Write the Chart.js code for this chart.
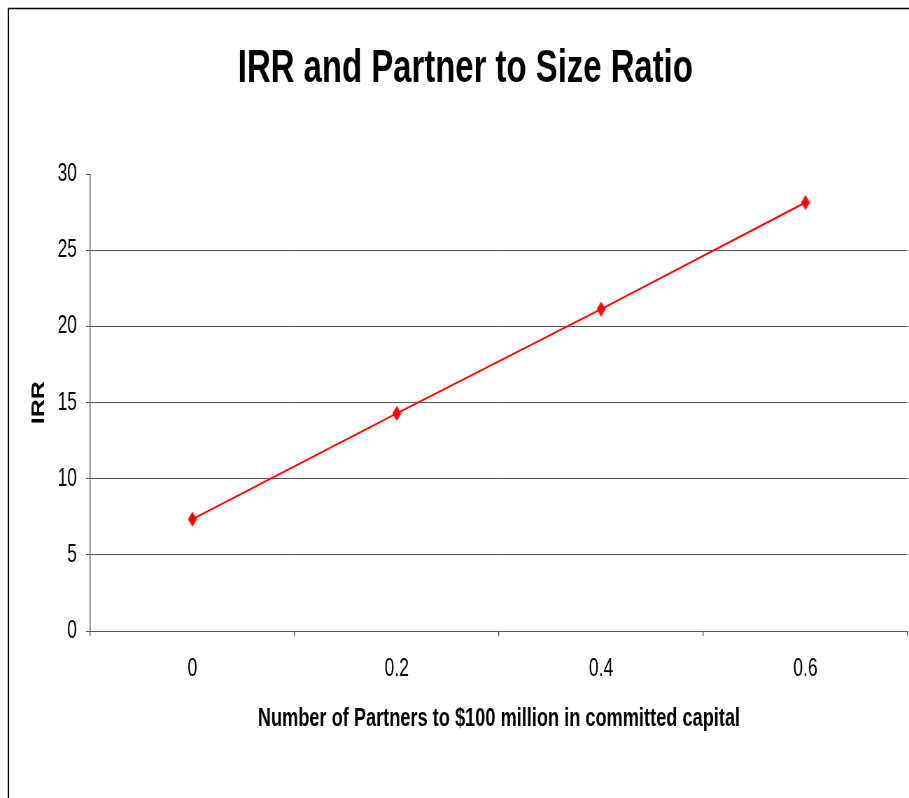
<!DOCTYPE html>
<html lang="en">

<head>
    <meta charset="UTF-8">
    <meta name="viewport" content="width=device-width, initial-scale=1.0">
    <title>IRR and Partner to Size Ratio</title>
    <script src="https://cdn.jsdelivr.net/npm/chart.js"></script>
    <style>
        body { margin: 0; background: #fff; }
        #myChart { display: block; }
    </style>
</head>

<body>
    <!-- drawn 1299 wide and squeezed back to 909px so the text comes out narrow -->
    <canvas id="myChart" width="1299" height="798" style="width: 909px; height: 798px;"></canvas>
    <script>
        // partners per $100 million vs IRR
        const partnerRatio = ['0', '0.2', '0.4', '0.6'];
        const irr = [7.35, 14.3, 21.15, 28.15];
        const yMin = 0;
        const yMax = 30;
        const yStep = 5;

        const FONT = "'Liberation Sans', Arial, sans-serif";
        const AXIS = '#555';

        // tall thin red diamond for the markers
        function diamond(w, h, color) {
            const c = document.createElement('canvas');
            c.width = w;
            c.height = h;
            const ctx = c.getContext('2d');
            ctx.fillStyle = color;
            ctx.beginPath();
            ctx.moveTo(w / 2, 0);
            ctx.lineTo(w, h / 2);
            ctx.lineTo(w / 2, h);
            ctx.lineTo(0, h / 2);
            ctx.closePath();
            ctx.fill();
            return c;
        }

        // frame round the whole chart (runs off the right and bottom edge)
        const frame = {
            id: 'frame',
            beforeDraw(chart) {
                const ctx = chart.ctx;
                ctx.save();
                ctx.strokeStyle = '#000';
                ctx.beginPath();
                ctx.lineWidth = 2.1;
                ctx.moveTo(12, 8.5);
                ctx.lineTo(12, chart.height);
                ctx.stroke();
                ctx.beginPath();
                ctx.lineWidth = 1.5;
                ctx.moveTo(11, 8.5);
                ctx.lineTo(chart.width, 8.5);
                ctx.stroke();
                ctx.restore();
            }
        };

        function drawChart(tag) {
            return new Chart(document.getElementById(tag), {
                type: 'line',
                data: {
                    labels: partnerRatio,
                    datasets: [{
                        label: 'IRR',
                        data: irr,
                        borderColor: '#ff0000',
                        borderWidth: 2,
                        tension: 0,
                        pointStyle: diamond(13, 15, '#ff0000'),
                        pointRadius: 7,
                        pointHoverRadius: 7
                    }]
                },
                options: {
                    responsive: false,
                    animation: false,
                    devicePixelRatio: 1,
                    layout: {
                        autoPadding: false,
                        padding: { left: 33, right: 2, top: 0, bottom: 0 }
                    },
                    plugins: {
                        legend: { display: false },
                        tooltip: { enabled: false },
                        title: {
                            display: true,
                            text: 'IRR and Partner to Size Ratio',
                            color: '#000',
                            font: { family: FONT, size: 47, weight: 'bold' },
                            padding: { top: 41, bottom: 77 }
                        }
                    },
                    scales: {
                        x: {
                            offset: true,
                            afterFit(scale) {
                                scale.height = 167;
                                scale.paddingLeft = 0;
                                scale.paddingRight = 0;
                            },
                            grid: {
                                offset: true,
                                drawOnChartArea: false,
                                drawTicks: true,
                                tickLength: 5,
                                tickColor: AXIS,
                                lineWidth: 1.4
                            },
                            border: { display: true, color: AXIS, width: 1 },
                            ticks: {
                                color: '#000',
                                padding: 18,
                                font: { family: FONT, size: 25 }
                            },
                            title: {
                                display: true,
                                text: 'Number of Partners to $100 million in committed capital',
                                color: '#000',
                                font: { family: FONT, size: 26, weight: 'bold' },
                                padding: { top: 0, bottom: 64 }
                            }
                        },
                        y: {
                            min: yMin,
                            max: yMax,
                            afterFit(scale) { scale.width = 96; },
                            grid: {
                                color: (ctx) => (ctx.tick && (ctx.tick.value === yMax || ctx.tick.value === yMin)) ? 'rgba(0,0,0,0)' : AXIS,
                                tickColor: AXIS,
                                tickLength: 6,
                                lineWidth: 1
                            },
                            border: { display: true, color: AXIS, width: 1.4 },
                            ticks: {
                                stepSize: yStep,
                                color: '#000',
                                padding: 13,
                                font: { family: FONT, size: 25 }
                            },
                            title: {
                                display: true,
                                text: 'IRR',
                                color: '#000',
                                font: { family: FONT, size: 25, weight: 'bold' },
                                padding: { top: 8, bottom: 0 }
                            }
                        }
                    }
                },
                plugins: [frame]
            });
        }

        drawChart('myChart');
    </script>
</body>

</html>
